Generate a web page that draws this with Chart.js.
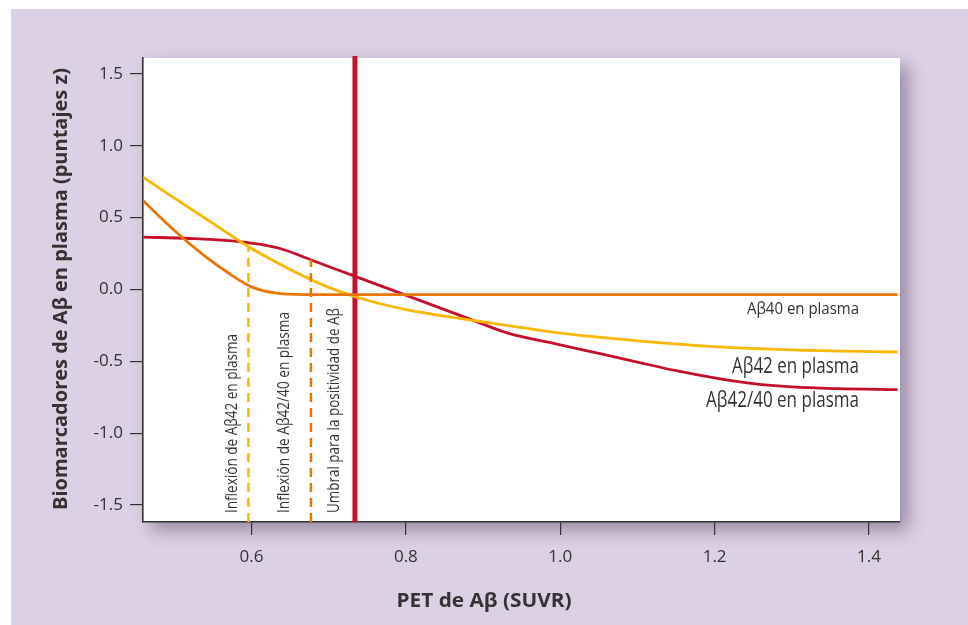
<!DOCTYPE html>
<html><head><meta charset="utf-8">
<script src="https://cdn.jsdelivr.net/npm/chart.js@4/dist/chart.umd.min.js"></script>
<style>html,body{margin:0;padding:0;background:#fff}#wrap{width:968px;height:625px;position:relative}</style>
</head><body><div id="wrap"><canvas id="c" width="968" height="625"></canvas></div>
<script>
// ---- data ----
const xTickValues = [0.6, 0.8, 1.0, 1.2, 1.4];
const yTickValues = [-1.5, -1.0, -0.5, 0.0, 0.5, 1.0, 1.5];

const seriesNames = ['Aβ40 en plasma', 'Aβ42 en plasma', 'Aβ42/40 en plasma'];

const ab40X = [0.46, 0.50, 0.54, 0.57, 0.60, 0.63, 0.67, 0.75, 1.00, 1.20, 1.437];
const ab40Y = [0.615, 0.41, 0.23, 0.115, 0.018, -0.024, -0.035, -0.035, -0.035, -0.035, -0.035];

const ab42X = [0.46, 0.50, 0.55, 0.60, 0.65, 0.70, 0.75, 0.80, 0.85, 0.90, 0.95, 1.00, 1.10, 1.20, 1.30, 1.437];
const ab42Y = [0.78, 0.636, 0.46, 0.285, 0.14, 0.015, -0.075, -0.14, -0.185, -0.226, -0.266, -0.304, -0.357, -0.397, -0.42, -0.435];

const ratioX = [0.46, 0.52, 0.57, 0.61, 0.64, 0.68, 0.73, 0.77, 0.80, 0.85, 0.89, 0.93, 1.00, 1.05, 1.10, 1.15, 1.20, 1.25, 1.30, 1.36, 1.437];
const ratioY = [0.365, 0.355, 0.34, 0.315, 0.28, 0.20, 0.10, 0.02, -0.04, -0.14, -0.22, -0.30, -0.385, -0.445, -0.505, -0.565, -0.615, -0.655, -0.678, -0.69, -0.697];

const markerNames = ['Inflexión de Aβ42 en plasma', 'Inflexión de Aβ42/40 en plasma', 'Umbral para la positividad de Aβ'];
const markerX = [0.596, 0.677, 0.734];
const markerTopY = [0.29, 0.208, 1.625];

const xMin = 0.4594, xMax = 1.4402, yMin = -1.618, yMax = 1.611;

// ---- styles ----
const C_YEL = '#f9b700', C_ORA = '#ec7404', C_RED = '#c5102c';
const TXT = '#333333';
const FONT = "'Open Sans', sans-serif";

const pts = (xs, ys) => xs.map((x, i) => ({x, y: ys[i]}));
const vline = (i) => [{x: markerX[i], y: yMin}, {x: markerX[i], y: markerTopY[i]}];

const curve = (label, xs, ys, color) => ({
  label, data: pts(xs, ys), borderColor: color, borderWidth: 2.8,
  pointRadius: 0, fill: false, cubicInterpolationMode: 'monotone'
});

// draw text squeezed/stretched to a target width (keeps it as real text)
function fitText(ctx, text, x, y, targetW, rot) {
  const w = ctx.measureText(text).width;
  ctx.save();
  ctx.translate(x, y);
  if (rot) ctx.rotate(rot);
  ctx.scale(targetW / w, 1);
  ctx.fillText(text, 0, 0);
  ctx.restore();
}

const bgPlugin = {
  id: 'bg',
  beforeDraw(chart) {
    const {ctx, chartArea: a} = chart;
    ctx.save();
    ctx.fillStyle = '#ffffff'; ctx.fillRect(0, 0, chart.width, chart.height);
    ctx.fillStyle = '#dcd0e4'; ctx.fillRect(11, 9, chart.width - 11, chart.height - 9);
    ctx.shadowColor = 'rgba(70,50,80,0.45)'; ctx.shadowBlur = 16;
    ctx.shadowOffsetX = 8; ctx.shadowOffsetY = 8;
    ctx.fillStyle = '#ffffff';
    ctx.fillRect(a.left, a.top, a.right - a.left, a.bottom - a.top);
    ctx.restore();
  }
};

const textPlugin = {
  id: 'texts',
  afterDraw(chart) {
    const {ctx, chartArea: a, scales} = chart;
    const xs = scales.x;
    ctx.save();
    ctx.fillStyle = TXT;
    ctx.textBaseline = 'middle';
    // axis titles
    ctx.textAlign = 'center';
    ctx.font = "bold 19px " + FONT;
    fitText(ctx, 'Biomarcadores de Aβ en plasma (puntajes z)', 62, 289, 442, -Math.PI / 2);
    ctx.font = "bold 19px " + FONT;
    fitText(ctx, 'PET de Aβ (SUVR)', chart.width / 2, 602, 175, 0);
    // marker labels (rotated, reading upward from the bottom)
    ctx.font = "16px " + FONT;
    ctx.textAlign = 'left';
    const offs = [-16, -27, -21];
    const lens = [179, 201, 205];
    markerNames.forEach((t, i) => {
      fitText(ctx, t, xs.getPixelForValue(markerX[i]) + offs[i], a.bottom - 9, lens[i], -Math.PI / 2);
    });
    // curve labels
    ctx.textAlign = 'right';
    ctx.font = "17px " + FONT;
    fitText(ctx, seriesNames[0], 859, 309, 112, 0);
    ctx.font = "21px " + FONT;
    fitText(ctx, seriesNames[1], 859, 367, 127, 0);
    fitText(ctx, seriesNames[2], 859, 401, 153, 0);
    ctx.restore();
  }
};

new Chart(document.getElementById('c'), {
  type: 'line',
  data: {
    datasets: [
      {label: markerNames[0], data: vline(0), borderColor: C_YEL, borderWidth: 2.5, borderDash: [9, 6], pointRadius: 0, tension: 0},
      {label: markerNames[1], data: vline(1), borderColor: C_ORA, borderWidth: 2.5, borderDash: [9, 6], pointRadius: 0, tension: 0},
      curve(seriesNames[0], ab40X, ab40Y, C_ORA),
      curve(seriesNames[1], ab42X, ab42Y, C_YEL),
      curve(seriesNames[2], ratioX, ratioY, C_RED),
      {label: markerNames[2], data: vline(2), borderColor: C_RED, borderWidth: 5, pointRadius: 0, tension: 0, clip: false}
    ]
  },
  options: {
    responsive: false, animation: false, devicePixelRatio: 1,
    layout: {padding: {left: 11, top: 58, right: 68, bottom: 0}},
    plugins: {legend: {display: false}, tooltip: {enabled: false}, title: {display: false}},
    scales: {
      x: {
        type: 'linear', min: xMin, max: xMax,
        afterFit: s => { s.height = 103; },
        afterBuildTicks: s => { s.ticks = xTickValues.map(v => ({value: v})); },
        grid: {drawOnChartArea: false, drawTicks: true, tickLength: 13, color: TXT, lineWidth: 1.2},
        border: {display: true, color: TXT, width: 1.6},
        ticks: {padding: 12, color: TXT, font: {family: FONT, size: 17}, callback: v => v.toFixed(1), maxRotation: 0, autoSkip: false}
      },
      y: {
        type: 'linear', min: yMin, max: yMax,
        afterFit: s => { s.width = 132; },
        afterBuildTicks: s => { s.ticks = yTickValues.map(v => ({value: v})); },
        grid: {drawOnChartArea: false, drawTicks: true, tickLength: 13, color: TXT, lineWidth: 1.2},
        border: {display: true, color: TXT, width: 1.6},
        ticks: {padding: 7, color: TXT, font: {family: FONT, size: 17}, callback: v => v.toFixed(1), autoSkip: false}
      }
    }
  },
  plugins: [bgPlugin, textPlugin]
});
</script>
</body></html>
